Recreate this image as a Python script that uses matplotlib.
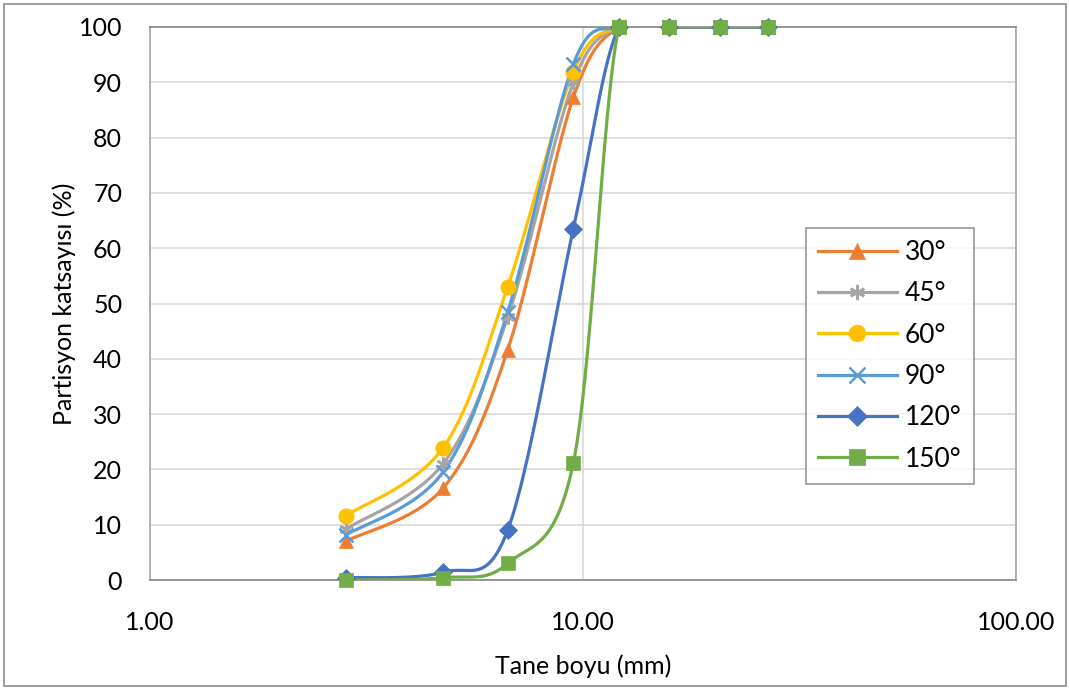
import numpy as np
import matplotlib
matplotlib.use("Agg")
import matplotlib.pyplot as plt
from matplotlib.lines import Line2D
from matplotlib.patches import Rectangle

plt.rcParams['font.family'] = ['Lato', 'DejaVu Sans']

# Grain size (mm) and partition coefficient (%) for each angle
sizes = [2.83, 4.75, 6.7, 9.5, 12.1, 15.8, 20.7, 26.7]
labels = ["30°", "45°", "60°", "90°", "120°", "150°"]
p30 = [7.0, 16.6, 41.6, 87.3, 100, 100, 100, 100]
p45 = [9.2, 21.0, 47.5, 90.0, 100, 100, 100, 100]
p60 = [11.6, 23.9, 53.0, 91.9, 100, 100, 100, 100]
p90 = [8.1, 19.5, 48.5, 93.3, 100, 100, 100, 100]
p120 = [0.4, 1.4, 9.0, 63.5, 100, 100, 100, 100]
p150 = [0.0, 0.4, 3.0, 21.2, 100, 100, 100, 100]
series = [p30, p45, p60, p90, p120, p150]

colors = ["#ED7D31", "#A5A5A5", "#FFC000", "#5B9BD5", "#4472C4", "#70AD47"]
markers = ["^", (6, 2, 0), "o", "x", "D", "s"]
msizes = [10, 10, 11, 10, 9, 10]

fig = plt.figure(figsize=(10.7, 6.9), dpi=100)
ax = fig.add_axes([150 / 1070, 110 / 690, 866 / 1070, 553 / 690])
ax.set_xscale('log')
ax.set_xlim(1, 100)
ax.set_ylim(0, 100)

# scale factors so smoothing is done in screen-like units
px_per_decade = 433.0
px_per_unit = 5.53


def smooth(xs, ys, n=40):
    """Cubic Bezier smoothing through the points (Catmull-Rom style)."""
    u = np.log10(np.asarray(xs, float)) * px_per_decade
    v = np.asarray(ys, float) * px_per_unit
    pts = np.column_stack([u, v])
    ext = np.vstack([pts[0], pts, pts[-1]])
    out = []
    t = np.linspace(0, 1, n)[:, None]
    for i in range(len(pts) - 1):
        p0, p1, p2, p3 = ext[i], ext[i + 1], ext[i + 2], ext[i + 3]
        c1 = p1 + (p2 - p0) / 6.0
        c2 = p2 - (p3 - p1) / 6.0
        seg = ((1 - t) ** 3) * p1 + 3 * ((1 - t) ** 2) * t * c1 \
            + 3 * (1 - t) * t ** 2 * c2 + t ** 3 * p2
        out.append(seg if i == 0 else seg[1:])
    out = np.vstack(out)
    return 10 ** (out[:, 0] / px_per_decade), out[:, 1] / px_per_unit


def mew_for(m):
    return 1.8 if m in ("x", (6, 2, 0)) else 0.5


for vals, c, m, ms in zip(series, colors, markers, msizes):
    sx, sy = smooth(sizes, vals)
    ax.plot(sx, sy, color=c, lw=2.3, solid_capstyle='round', zorder=3)
    ax.plot(sizes, vals, ls='none', marker=m, color=c, ms=ms, mew=mew_for(m),
            mec=c, clip_on=False, zorder=4)

ax.set_yticks(np.arange(0, 101, 10))
ax.set_xticks([1, 10, 100])
ax.set_xticklabels(["1.00", "10.00", "100.00"])
ax.xaxis.set_minor_locator(matplotlib.ticker.NullLocator())
ax.tick_params(axis='both', length=0, labelsize=18, colors='black')
ax.tick_params(axis='x', pad=22)
ax.tick_params(axis='y', pad=20)
ax.grid(True, which='major', color='#D9D9D9', lw=1.2, zorder=0)
ax.set_axisbelow(True)
for s in ax.spines.values():
    s.set_color('#A6A6A6')
    s.set_linewidth(1.2)
ax.spines['bottom'].set_color('#868686')
ax.spines['top'].set_color('#868686')

ax.set_xlabel("Tane boyu (mm)", fontsize=18, labelpad=15)
ax.set_ylabel("Partisyon katsayısı (%)", fontsize=18, labelpad=2)

handles = [Line2D([0], [0], color=c, lw=2.3, marker=m, ms=ms + 1,
                  mew=mew_for(m), mec=c)
           for c, m, ms in zip(colors, markers, msizes)]
leg = ax.legend(handles, labels, loc='upper left',
                bbox_to_anchor=(656 / 866, (580 - 228) / 553),
                fontsize=19, frameon=True, fancybox=False,
                edgecolor='#7F7F7F', handlelength=3.0, handletextpad=0.3,
                labelspacing=0.62, borderpad=0.45, borderaxespad=0)
leg.get_frame().set_linewidth(1.2)

fig.patches.append(Rectangle((4 / 1070, 4 / 690), 1062 / 1070, 682 / 690,
                             transform=fig.transFigure, fill=False,
                             edgecolor='#8C8C8C', lw=1.2))

fig.savefig("out.png", dpi=100)
